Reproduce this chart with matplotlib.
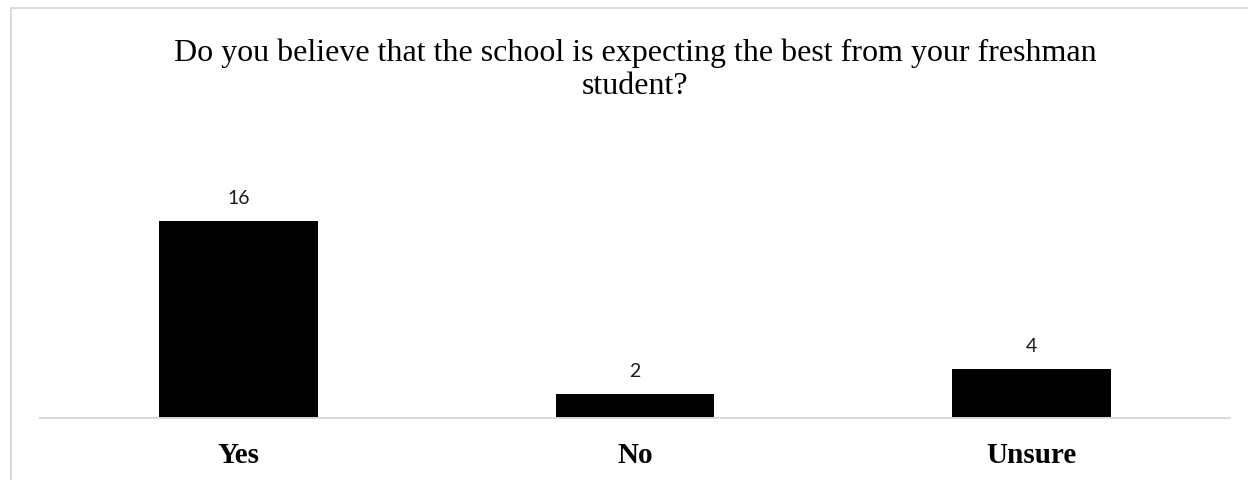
import matplotlib
matplotlib.use("Agg")
import matplotlib.pyplot as plt
from matplotlib.patches import Rectangle

# Data
categories = ["Yes", "No", "Unsure"]
counts = [16, 2, 4]
title = "Do you believe that the school is expecting the best from your freshman\nstudent?"

W, H = 1248, 481
fig = plt.figure(figsize=(W / 100, H / 100), dpi=100)
fig.patch.set_facecolor("white")

# outer chart frame (light gray, extends beyond right/bottom edges)
frame = Rectangle((11 / W, -0.1), 1.2, 1 - 9 / H + 0.1, transform=fig.transFigure,
                  fill=False, edgecolor="#d9d9d9", linewidth=1.4, clip_on=False)
fig.patches.append(frame)

ax_bottom_px = 419.3
ymax = 21
px_per_unit = 12.33
ax_h_px = ymax * px_per_unit
ax = fig.add_axes([40 / W, (H - ax_bottom_px) / H, 1190 / W, ax_h_px / H])

x = list(range(len(categories)))
bars = ax.bar(x, counts, width=0.40, color="black", zorder=2)
ax.set_xlim(-0.5, len(categories) - 0.5)
ax.set_ylim(0, ymax)

for xi, v in zip(x, counts):
    ax.annotate(str(v), xy=(xi, v), xytext=(0, 13), textcoords="offset points",
                ha="center", va="baseline", fontsize=14, family=["Lato", "DejaVu Sans"],
                color="#1a1a1a")

for s in ["top", "right", "left"]:
    ax.spines[s].set_visible(False)
ax.spines["bottom"].set_color("#d9d9d9")
ax.spines["bottom"].set_linewidth(1.4)
ax.set_yticks([])
ax.set_xticks(x)
ax.set_xticklabels(categories, fontsize=21, fontweight="bold", family="Liberation Serif")
ax.tick_params(axis="x", length=0, pad=31.7)
for lbl in ax.get_xticklabels():
    lbl.set_verticalalignment("baseline")

fig.text(635 / W, 1 - 38 / H, title, ha="center", va="top", fontsize=23.0,
         family="Liberation Serif", linespacing=1.22, color="black")

fig.savefig("out.png", dpi=100, facecolor="white")
